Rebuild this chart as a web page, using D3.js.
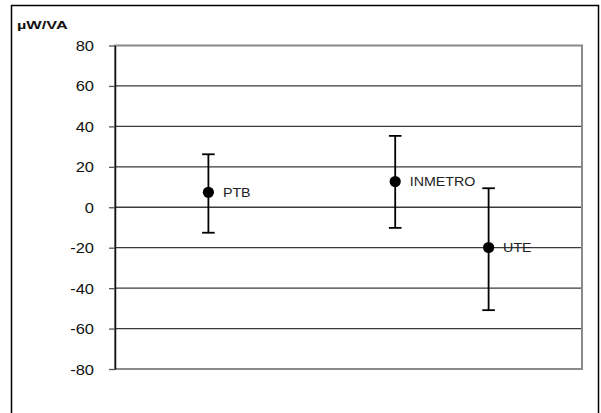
<!DOCTYPE html>
<html><head><meta charset="utf-8">
<script src="https://cdn.jsdelivr.net/npm/d3@7"></script>
<style>body{margin:0;background:#fff}svg{display:block}</style>
</head><body>
<script>
const labs = ["PTB", "INMETRO", "UTE"];
const xPos = [1, 3, 4];
const values = [7.4, 12.7, -19.9];
const upper = [26.2, 35.3, 9.4];
const lower = [-12.6, -10.2, -50.9];
const yTicks = [-80, -60, -40, -20, 0, 20, 40, 60, 80];
const unitLabel = "µW/VA";

const W = 601, H = 413;
const FONT = "Arial, 'Liberation Sans', sans-serif";
const svg = d3.select("body").append("svg").attr("width", W).attr("height", H);
svg.append("rect").attr("width", W).attr("height", H).attr("fill", "#fff");

// outer chart border
svg.append("rect").attr("x", 11.5).attr("y", 5.5).attr("width", 587).attr("height", 420)
  .attr("fill", "none").attr("stroke", "#000").attr("stroke-width", 1.5);

const x = d3.scaleLinear().domain([0, 5]).range([115, 582]);
const y = d3.scaleLinear().domain([-80, 80]).range([369, 45.5]);

// gridlines
svg.append("g").selectAll("line").data(yTicks.filter(d => d > -80 && d < 80)).join("line")
  .attr("x1", x(0)).attr("x2", x(5)).attr("y1", d => y(d)).attr("y2", d => y(d))
  .attr("stroke", "#3a3a3a").attr("stroke-width", 1.3);

// plot border
svg.append("rect").attr("x", x(0)).attr("y", y(80)).attr("width", x(5) - x(0)).attr("height", y(-80) - y(80))
  .attr("fill", "none").attr("stroke", "#8a8a8a").attr("stroke-width", 2);

// y axis
const sx = 1.18;
const ax = svg.append("g").attr("transform", `translate(${x(0)},0)`)
  .call(d3.axisLeft(y).tickValues(yTicks).tickSize(6).tickSizeOuter(0).tickFormat(d => String(d)));
ax.select(".domain").attr("stroke", "#111").attr("stroke-width", 1.5);
ax.selectAll(".tick line").attr("stroke", "#555").attr("stroke-width", 1.3);
ax.selectAll(".tick text").attr("font-family", FONT).attr("font-size", 14).attr("fill", "#111")
  .attr("x", -21 / sx).attr("dy", null).attr("y", 5).attr("transform", `scale(${sx},1)`);

// unit label
svg.append("text").attr("transform", "translate(17,29) scale(1.38,1)").text(unitLabel)
  .attr("font-family", FONT).attr("font-weight", "bold")
  .attr("font-size", 11.8).attr("fill", "#111");

// error bars & points
const data = labs.map((l, i) => ({l, x: xPos[i], v: values[i], hi: upper[i], lo: lower[i]}));
const g = svg.append("g");
const pts = g.selectAll("g").data(data).join("g");
pts.append("line").attr("x1", d => x(d.x)).attr("x2", d => x(d.x))
  .attr("y1", d => y(d.hi)).attr("y2", d => y(d.lo)).attr("stroke", "#000").attr("stroke-width", 1.8);
pts.append("line").attr("x1", d => x(d.x) - 6.3).attr("x2", d => x(d.x) + 6.3)
  .attr("y1", d => y(d.hi)).attr("y2", d => y(d.hi)).attr("stroke", "#000").attr("stroke-width", 1.8);
pts.append("line").attr("x1", d => x(d.x) - 6.3).attr("x2", d => x(d.x) + 6.3)
  .attr("y1", d => y(d.lo)).attr("y2", d => y(d.lo)).attr("stroke", "#000").attr("stroke-width", 1.8);
pts.append("circle").attr("cx", d => x(d.x)).attr("cy", d => y(d.v)).attr("r", 5.6).attr("fill", "#000");
pts.append("text").attr("transform", d => `translate(${x(d.x) + 14.5},${y(d.v) + 4.5}) scale(1.14,1)`)
  .text(d => d.l).attr("font-family", FONT).attr("font-size", 12.5).attr("fill", "#222");
</script>
</body></html>
